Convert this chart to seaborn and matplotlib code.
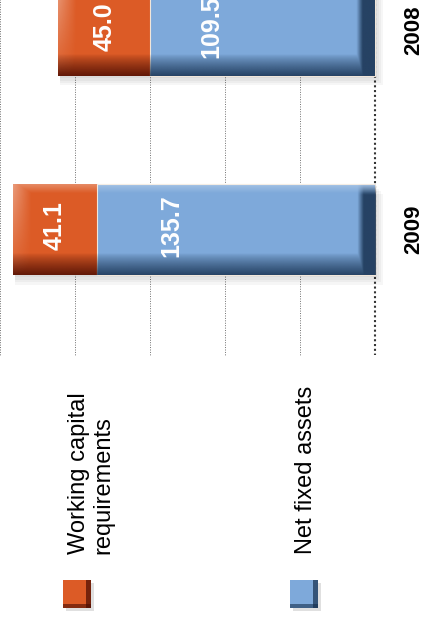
import numpy as np
import pandas as pd
import matplotlib
matplotlib.use("Agg")
import matplotlib.pyplot as plt
import seaborn as sns
from matplotlib.colors import to_rgb
from matplotlib.patches import Rectangle

# chart data
years = ["2008", "2009"]
net_fixed_assets = [109.5, 135.7]
working_capital = [45.0, 41.1]
series_labels = ["Working capital\nrequirements", "Net fixed assets"]

ORANGE = "#DC5B26"
ORANGE_DARK = "#4A0C02"
BLUE = "#7EA9DA"
BLUE_DARK = "#16304F"

BAR_W = 0.457
GRID_STEP = 36.6
X_LIM = (182.9, -25.4)    # values grow to the left (chart is turned on its side)
Y_LIM = (2.967, -0.153)
GRID_END = 1.63


def add_bevel(ax, patch, dark, z, cap=None, glow=None):
    """Shade a bar so it looks like the embossed bars of the original."""
    x0, y0 = patch.get_x(), patch.get_y()
    w, h = patch.get_width(), patch.get_height()
    nx, ny = 400, 90
    dist = (np.arange(nx) + 0.5) / nx * w
    v = (np.arange(ny) + 0.5) / ny
    V, D = np.meshgrid(v, dist, indexing="ij")

    a_dark = np.clip((V - 0.76) / 0.24, 0, 1) ** 0.8 * 0.85
    if cap:
        a_cap = np.clip((cap - D) / 3.0, 0, 1) * np.clip(V / 0.12, 0, 1) * 0.85
        a_dark = np.maximum(a_dark, a_cap)
    a_light = np.clip((0.1 - V) / 0.1, 0, 1) * 0.3
    if glow:
        a_light = np.maximum(a_light, np.clip((glow - (w - D)) / glow, 0, 1) * 0.4 * (1 - V))

    for col, alpha in ((dark, a_dark), ("white", a_light)):
        layer = np.zeros((ny, nx, 4))
        layer[..., :3] = to_rgb(col)
        layer[..., 3] = alpha
        im = ax.imshow(layer, extent=(x0, x0 + w, y0 + h, y0), origin="upper",
                       aspect="auto", interpolation="bilinear", zorder=z)
        im.set_clip_path(patch)


def plot_chart():
    df = pd.DataFrame({"year": years, "nfa": net_fixed_assets, "wcr": working_capital})
    df["total"] = df["nfa"] + df["wcr"]
    pos = np.arange(len(df))

    sns.set_style("white")
    plt.rcParams["font.family"] = ["Liberation Sans", "DejaVu Sans"]

    fig = plt.figure(figsize=(4.27, 6.21), dpi=100)
    ax = fig.add_axes([0, 0, 1, 1])

    # soft drop shadow
    for k in range(1, 5):
        ax.barh(pos + 0.012 * k, df["total"] + 1.0 * k - 1.0, left=-1.0 * k,
                height=BAR_W, color="black", alpha=0.035, zorder=2, linewidth=0)

    # stacked bars: total in orange, net fixed assets drawn over it
    sns.barplot(data=df, x="total", y="year", orient="h", color=ORANGE, saturation=1,
                width=BAR_W, errorbar=None, linewidth=0, zorder=3, ax=ax)
    sns.barplot(data=df, x="nfa", y="year", orient="h", color=BLUE, saturation=1,
                width=BAR_W, errorbar=None, edgecolor="#F1E6DA", linewidth=0.8,
                zorder=5, ax=ax)

    orange_bars = [p for p in ax.patches if p.get_zorder() == 3]
    blue_bars = [p for p in ax.patches if p.get_zorder() == 5]
    for p in orange_bars:
        add_bevel(ax, p, ORANGE_DARK, 4, glow=9)
    for p in blue_bars:
        add_bevel(ax, p, BLUE_DARK, 6, cap=9)

    # dotted grid and base line
    ax.vlines([GRID_STEP * k for k in range(1, 6)], -0.2, GRID_END,
              colors="#707070", linestyles=(0, (1, 1.5)), linewidth=0.7, zorder=1)
    ax.vlines(0, -0.2, GRID_END, colors="#333333", linestyles=(0, (1, 1.3)),
              linewidth=1.5, zorder=1)

    # value labels
    for i, row in df.iterrows():
        ax.text(row["nfa"] + row["wcr"] / 2, i - 0.02, f"{row['wcr']:.1f}", rotation=90,
                ha="center", va="center", color="white", fontsize=18,
                fontweight="bold", zorder=8)
        ax.text(row["nfa"] * 0.73, i - 0.02, f"{row['nfa']:.1f}", rotation=90,
                ha="center", va="center", color="white", fontsize=18,
                fontweight="bold", zorder=8)
        ax.text(-19, i, row["year"], rotation=90, ha="center", va="center",
                color="black", fontsize=16, fontweight="bold", zorder=8)

    ax.set_xlim(*X_LIM)
    ax.set_ylim(*Y_LIM)
    ax.set_axis_off()

    # legend, drawn by hand because it is turned as well
    W, H = 427, 621
    for (x_sq, x_txt, col, dark, label) in ((63, 91, ORANGE, ORANGE_DARK, series_labels[0]),
                                            (290, 306, BLUE, BLUE_DARK, series_labels[1])):
        fig.add_artist(Rectangle(((x_sq + 3) / W, 10 / H), 28 / W, 28 / H,
                                 transform=fig.transFigure, color="black", alpha=0.12, lw=0))
        fig.add_artist(Rectangle((x_sq / W, 13 / H), 28 / W, 28 / H,
                                 transform=fig.transFigure, color=col, lw=0))
        fig.add_artist(Rectangle(((x_sq + 23) / W, 13 / H), 5 / W, 28 / H,
                                 transform=fig.transFigure, color=dark, alpha=0.7, lw=0))
        fig.add_artist(Rectangle((x_sq / W, 13 / H), 28 / W, 4 / H,
                                 transform=fig.transFigure, color=dark, alpha=0.6, lw=0))
        fig.text(x_txt / W, (H - 554) / H, label, rotation=90, ha="center", va="bottom",
                 multialignment="left", fontsize=17, color="black", linespacing=1.15)

    fig.savefig("out.png", dpi=100)
    plt.close(fig)


if __name__ == "__main__":
    plot_chart()
